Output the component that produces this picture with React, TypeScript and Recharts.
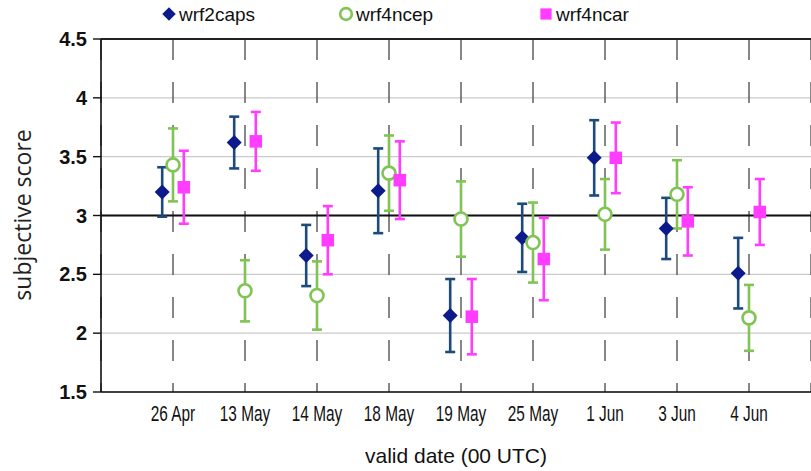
import {
  ScatterChart, Scatter, XAxis, YAxis, CartesianGrid, ErrorBar, ReferenceLine,
} from 'recharts'

const DATES = ['26 Apr', '13 May', '14 May', '18 May', '19 May', '25 May', '1 Jun', '3 Jun', '4 Jun']
const Y_TICKS = [1.5, 2, 2.5, 3, 3.5, 4, 4.5]

const WRF2CAPS = [3.2, 3.62, 2.66, 3.21, 2.15, 2.81, 3.49, 2.89, 2.51]
const WRF2CAPS_ERR = [0.21, 0.22, 0.26, 0.36, 0.31, 0.29, 0.32, 0.26, 0.3]
const WRF4NCEP = [3.43, 2.36, 2.32, 3.36, 2.97, 2.77, 3.01, 3.18, 2.13]
const WRF4NCEP_ERR = [0.31, 0.26, 0.29, 0.32, 0.32, 0.34, 0.3, 0.29, 0.28]
const WRF4NCAR = [3.24, 3.63, 2.79, 3.3, 2.14, 2.63, 3.49, 2.95, 3.03]
const WRF4NCAR_ERR = [0.31, 0.25, 0.29, 0.33, 0.32, 0.35, 0.3, 0.29, 0.28]

const FONT = '"Liberation Sans", Arial, sans-serif'

type Mark = 'diamond' | 'circle' | 'square'

const SERIES = [
  { name: 'wrf2caps', values: WRF2CAPS, err: WRF2CAPS_ERR, color: '#0c1a8c', barColor: '#1c4a7c', mark: 'diamond' as Mark, shift: -0.15 },
  { name: 'wrf4ncep', values: WRF4NCEP, err: WRF4NCEP_ERR, color: '#80c455', barColor: '#80c455', mark: 'circle' as Mark, shift: 0 },
  { name: 'wrf4ncar', values: WRF4NCAR, err: WRF4NCAR_ERR, color: '#ff3cff', barColor: '#ff3cff', mark: 'square' as Mark, shift: 0.15 },
]

function marker(mark: Mark, color: string, cx: number, cy: number, k = 1) {
  if (mark === 'diamond') {
    const h = 7.5 * k
    return <path d={`M${cx},${cy - h}L${cx + h},${cy}L${cx},${cy + h}L${cx - h},${cy}Z`} fill={color} />
  }
  if (mark === 'circle') {
    return <circle cx={cx} cy={cy} r={6.5 * k} fill="#fff" stroke={color} strokeWidth={2.6} />
  }
  const s = 12.5 * k
  return <rect x={cx - s / 2} y={cy - s / 2} width={s} height={s} fill={color} />
}

// condensed date labels, squeezed horizontally like the original
function DateTick(props: any) {
  const { x, y, payload } = props
  return (
    <text
      transform={`translate(${x},${y + 29}) scale(0.7,1)`}
      textAnchor="middle" fontSize={22} fill="#111" fontFamily={FONT}
    >
      {DATES[payload.value - 1] ?? ''}
    </text>
  )
}

export default function App() {
  return (
    <div style={{ position: 'absolute', left: 0, top: 0, width: 811, height: 471, background: '#fff' }}>
      <ScatterChart width={811} height={471} margin={{ top: 39, right: 0, bottom: 0, left: 0 }}>
        <CartesianGrid horizontal vertical={false} stroke="#cacaca" strokeWidth={1.3} />
        <CartesianGrid horizontal={false} vertical stroke="#555" strokeWidth={1.4} strokeDasharray="21 22" />
        <XAxis
          type="number"
          dataKey="x"
          domain={[0, 710 / 72]}
          ticks={DATES.map((_, i) => i + 1)}
          allowDataOverflow
          height={79}
          tickLine={false}
          tickSize={0}
          tickMargin={0}
          axisLine={{ stroke: '#111', strokeWidth: 1.6 }}
          tick={<DateTick />}
          label={{ value: 'valid date (00 UTC)', position: 'insideBottom', offset: 8, fontSize: 21, fill: '#111', fontFamily: FONT }}
        />
        <YAxis
          type="number"
          dataKey="y"
          domain={[1.5, 4.5]}
          ticks={Y_TICKS}
          width={101}
          tickSize={8}
          tickMargin={6}
          axisLine={{ stroke: '#111', strokeWidth: 1.6 }}
          tickLine={{ stroke: '#111', strokeWidth: 1.4 }}
          tick={{ fontSize: 20, fontWeight: 700, fill: '#111', fontFamily: FONT }}
          label={{
            content: () => (
              <text
                x={22} y={215} transform="rotate(-90, 22, 215)"
                textAnchor="middle" dominantBaseline="central"
                fontSize={23} fill="#222" fontFamily='"Open Sans", sans-serif'
              >
                subjective score
              </text>
            ),
          }}
        />
        <ReferenceLine y={3} stroke="#111" strokeWidth={2} />
        <ReferenceLine y={4.5} stroke="#222" strokeWidth={1.8} />
        {SERIES.map((s) => (
          <Scatter
            key={s.name}
            name={s.name}
            data={s.values.map((v, i) => ({ x: i + 1 + s.shift, y: v, err: s.err[i] }))}
            isAnimationActive={false}
            shape={(p: any) => marker(s.mark, s.color, p.cx, p.cy)}
          >
            <ErrorBar dataKey="err" direction="y" width={5} stroke={s.barColor} strokeWidth={2.6} />
          </Scatter>
        ))}
      </ScatterChart>
      <svg width={811} height={32} style={{ position: 'absolute', left: 0, top: 0 }}>
        {SERIES.map((s, i) => {
          const x = [169, 346, 546][i]
          return (
            <g key={s.name}>
              {marker(s.mark, s.color, x, 14, 0.9)}
              <text x={x + 10} y={21} fontSize={19} fill="#111" fontFamily={FONT}>{s.name}</text>
            </g>
          )
        })}
      </svg>
    </div>
  )
}
